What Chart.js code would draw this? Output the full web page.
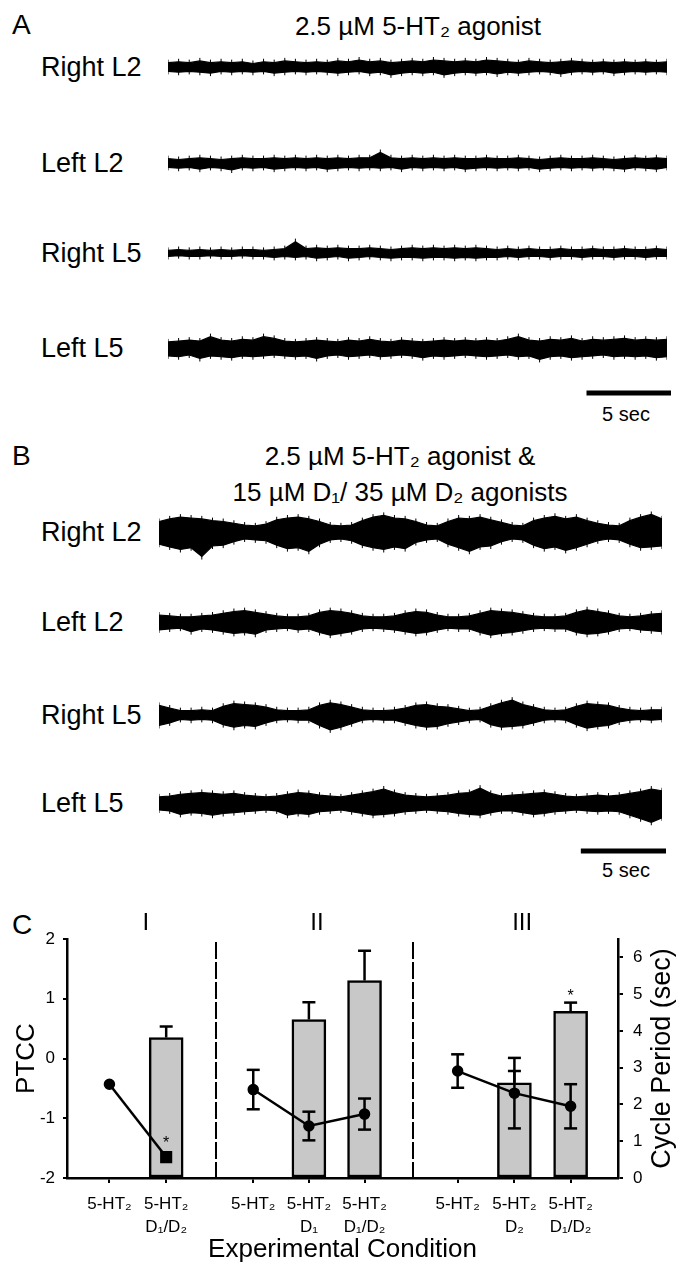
<!DOCTYPE html>
<html>
<head>
<meta charset="utf-8">
<script src="https://cdn.jsdelivr.net/npm/chart.js"></script>
<style>
  html, body { margin: 0; padding: 0; background: #fff; }
  #page { position: relative; width: 678px; height: 1267px; overflow: hidden;
          font-family: "Liberation Sans", Arial, sans-serif; color: #000; }
  .t { position: absolute; white-space: nowrap; line-height: 1; }
  .c { transform: translateX(-50%); }
  canvas { position: absolute; }
</style>
</head>
<body>
<div id="page">
  <div class="t" style="left:12px;top:11px;font-size:28px">A</div>
  <div class="t c" style="left:418px;top:13px;font-size:26px">2.5 µM 5-HT₂ agonist</div>
  <div class="t c" style="left:626px;top:404px;font-size:20px">5 sec</div>

  <div class="t" style="left:12px;top:442px;font-size:28px">B</div>
  <div class="t c" style="left:400px;top:443px;font-size:26px">2.5 µM 5-HT₂ agonist &amp;</div>
  <div class="t c" style="left:400px;top:479px;font-size:26px">15 µM D₁/ 35 µM D₂ agonists</div>
  <div class="t c" style="left:626px;top:860px;font-size:20px">5 sec</div>

  <div class="t" style="left:12px;top:911px;font-size:28px">C</div>
  <canvas id="chartC" width="678" height="367" style="left:0;top:900px"></canvas>
</div>
<script>
Chart.defaults.font.family = '"Liberation Sans", Arial, sans-serif';
Chart.defaults.color = '#000';

// ---- panels A / B : EMG traces, envelope (upper / lower edge) ----
const traceNames = ['Right L2', 'Left L2', 'Right L5', 'Left L5'];
const sweepSec = 30;
const scaleBarSec = 5;

// A: 5-HT2 agonist alone
const aRightL2Up = [5,6,5,7,5,6,5,6,4,6,5,7,6,5,6,5,7,6,8,6,7,5,6,7,6,8,7,6,7,6,8,7,6,5,7,6,5,6,7,6,5,6,5,6,5,6,5,6];
const aRightL2Lo = [-5,-6,-5,-6,-7,-5,-6,-5,-6,-5,-7,-6,-5,-6,-5,-6,-7,-6,-5,-7,-6,-9,-7,-6,-7,-6,-9,-7,-6,-7,-6,-8,-6,-7,-6,-5,-6,-8,-6,-5,-6,-5,-7,-6,-5,-6,-5,-6];
const aLeftL2Up = [5,4,5,6,5,4,5,6,5,5,6,5,6,5,6,5,6,5,6,6,12,6,5,6,5,6,5,6,5,5,6,5,5,6,5,4,5,6,5,5,6,5,4,5,6,5,6,5];
const aLeftL2Lo = [-5,-6,-5,-7,-5,-6,-8,-5,-6,-5,-7,-6,-5,-6,-5,-7,-6,-5,-6,-5,-6,-5,-7,-5,-6,-5,-6,-5,-7,-6,-5,-6,-5,-6,-5,-7,-6,-5,-6,-5,-6,-5,-6,-7,-5,-6,-7,-5];
const aRightL5Up = [3,4,3,4,3,4,3,4,4,3,4,5,13,5,6,5,6,5,5,6,5,4,5,6,5,6,5,6,5,6,5,4,5,4,5,4,4,5,4,4,5,4,4,5,4,4,5,4];
const aRightL5Lo = [-4,-3,-4,-4,-3,-4,-4,-3,-4,-4,-5,-4,-5,-4,-6,-5,-4,-6,-5,-4,-5,-6,-5,-5,-6,-5,-5,-6,-5,-6,-5,-5,-4,-5,-4,-4,-5,-4,-4,-5,-4,-4,-5,-4,-4,-5,-4,-4];
const aLeftL5Up = [7,8,9,8,13,9,8,10,9,13,11,8,7,8,9,8,7,9,8,10,8,7,9,8,7,8,9,8,9,8,9,8,10,13,9,8,10,9,11,8,10,9,10,11,9,10,9,10];
const aLeftL5Lo = [-9,-10,-8,-12,-9,-10,-11,-9,-10,-9,-8,-9,-10,-9,-12,-9,-8,-10,-9,-8,-10,-9,-8,-9,-11,-9,-10,-9,-8,-9,-10,-9,-8,-10,-9,-13,-10,-9,-11,-10,-9,-8,-10,-9,-10,-9,-11,-10];

// B: 5-HT2 + D1/D2 agonists (bursting)
const bRightL2Up = [12,15,17,16,15,13,12,10,8,7,9,14,16,17,15,12,8,7,8,13,17,19,16,15,12,8,7,12,16,15,17,14,11,8,7,13,16,18,15,17,13,10,8,7,13,17,20,15];
const bRightL2Lo = [-14,-17,-20,-18,-28,-16,-15,-11,-8,-9,-10,-15,-19,-18,-22,-14,-9,-8,-10,-15,-18,-20,-17,-19,-12,-9,-8,-14,-18,-22,-17,-16,-11,-8,-9,-15,-19,-17,-21,-18,-14,-10,-8,-9,-14,-18,-17,-16];
const bLeftL2Up = [8,7,6,6,7,8,10,12,13,11,9,7,6,6,7,11,13,12,10,7,6,6,7,10,12,11,8,6,6,7,10,13,12,11,9,7,6,6,7,11,14,12,10,7,6,7,9,10];
const bLeftL2Lo = [-9,-8,-7,-11,-8,-9,-11,-13,-12,-14,-9,-8,-7,-9,-8,-12,-15,-13,-11,-8,-7,-8,-9,-11,-13,-12,-9,-7,-8,-8,-12,-15,-13,-12,-10,-8,-7,-8,-8,-12,-14,-13,-11,-8,-7,-9,-10,-11];
const bRightL5Up = [11,8,5,5,6,5,10,13,12,11,9,6,5,5,6,11,14,12,9,6,5,5,6,8,11,12,10,9,7,5,6,10,14,17,12,9,6,5,6,10,13,12,11,8,6,5,6,6];
const bRightL5Lo = [-12,-9,-5,-6,-5,-6,-11,-14,-12,-13,-9,-6,-5,-6,-6,-12,-17,-14,-10,-6,-5,-6,-6,-9,-12,-14,-13,-10,-8,-6,-5,-11,-14,-13,-12,-9,-6,-5,-6,-11,-15,-13,-12,-8,-6,-5,-6,-5];
const bLeftL5Up = [7,8,10,11,12,11,10,11,9,8,7,8,10,12,11,9,8,7,9,11,13,16,12,9,8,7,8,9,11,12,17,11,8,9,10,11,12,10,8,7,8,9,8,9,11,13,16,14];
const bLeftL5Lo = [-8,-9,-13,-11,-12,-14,-12,-11,-10,-9,-8,-9,-14,-12,-13,-10,-9,-8,-10,-12,-14,-13,-12,-10,-9,-8,-9,-10,-12,-13,-14,-11,-9,-9,-11,-13,-12,-10,-9,-8,-9,-10,-9,-10,-14,-18,-22,-17];

// ---- panel C ----
const condLabels = [
  ['5-HT₂', ''], ['5-HT₂', 'D₁/D₂'],
  ['5-HT₂', ''], ['5-HT₂', 'D₁'], ['5-HT₂', 'D₁/D₂'],
  ['5-HT₂', ''], ['5-HT₂', 'D₂'], ['5-HT₂', 'D₁/D₂']
];
const condPos = [0.77, 1.8, 3.38, 4.39, 5.4, 7.09, 8.12, 9.14];
const condGroup = [0, 0, 1, 1, 1, 2, 2, 2];
const groupNames = ['I', 'II', 'III'];
const groupDividers = [2.7, 6.28];
const ptcc = [-0.43, -1.65, -0.52, -1.13, -0.93, -0.21, -0.58, -0.80];
const ptccErr = [0, 0, 0.33, 0.24, 0.26, 0.28, 0.59, 0.37];
const ptccSig = [false, true, false, false, false, false, false, false];
const period = [null, 3.82, null, 4.31, 5.37, null, 2.59, 4.53];
const periodErr = [0, 0.30, 0, 0.47, 0.81, 0, 0.32, 0.24];
const periodSig = [false, false, false, false, false, false, false, true];
const ptccTicks = [-2, -1, 0, 1, 2];
const periodTicks = [0, 1, 2, 3, 4, 5, 6];

// ---- layout ----
const page = document.getElementById('page');
const panels = [
  { left: 164, width: 507, centers: [67, 163, 253, 348], barY: 393,
    traces: [[aRightL2Up, aRightL2Lo], [aLeftL2Up, aLeftL2Lo], [aRightL5Up, aRightL5Lo], [aLeftL5Up, aLeftL5Lo]] },
  { left: 155, width: 511, centers: [532, 622, 715, 803], barY: 851,
    traces: [[bRightL2Up, bRightL2Lo], [bLeftL2Up, bLeftL2Lo], [bRightL5Up, bRightL5Lo], [bLeftL5Up, bLeftL5Lo]] }
];
const quiet = { responsive: false, animation: false, events: [], layout: { padding: 0 },
  plugins: { legend: { display: false }, tooltip: { enabled: false } } };

function addCanvas(left, top, w, h) {
  const cv = document.createElement('canvas');
  cv.width = w; cv.height = h;
  cv.style.left = left + 'px'; cv.style.top = top + 'px';
  page.appendChild(cv);
  return cv;
}

// vertical hair at every envelope vertex so the band reads like a raw EMG sweep
const hair = { pointStyle: 'line', pointRotation: 90, pointRadius: 3, pointBorderWidth: 1,
               pointBorderColor: '#000', pointHoverRadius: 0 };

function drawTrace(panel, i) {
  const [up, lo] = panel.traces[i];
  const lbl = document.createElement('div');
  lbl.className = 't';
  lbl.style.cssText = `left:41px;top:${panel.centers[i] - 13}px;font-size:27px`;
  lbl.textContent = traceNames[i];
  page.appendChild(lbl);

  const cv = addCanvas(panel.left, panel.centers[i] - 32, panel.width, 64);
  const toPts = arr => arr.map((v, k) => ({ x: k * sweepSec / (arr.length - 1), y: v }));
  new Chart(cv, {
    type: 'line',
    data: { datasets: [
      { data: toPts(up), fill: '+1', backgroundColor: '#000', borderColor: '#000', borderWidth: 1.2, tension: 0, ...hair },
      { data: toPts(lo), fill: false, borderColor: '#000', borderWidth: 1.2, tension: 0, ...hair }
    ] },
    options: { ...quiet,
      scales: { x: { type: 'linear', display: false, min: 0, max: sweepSec },
                y: { display: false, min: -32, max: 32 } } }
  });
}

function drawScaleBar(panel) {
  const cv = addCanvas(panel.left, panel.barY - 5, panel.width, 10);
  new Chart(cv, {
    type: 'line',
    data: { datasets: [{ data: [{ x: sweepSec - scaleBarSec, y: 0 }, { x: sweepSec, y: 0 }],
      borderColor: '#000', borderWidth: 5, borderCapStyle: 'butt', pointRadius: 0 }] },
    options: { ...quiet, clip: false,
      scales: { x: { type: 'linear', display: false, min: 0, max: sweepSec },
                y: { display: false, min: -1, max: 1 } } }
  });
}

panels.forEach(p => {
  p.traces.forEach((_, i) => drawTrace(p, i));
  drawScaleBar(p);
});

// ---- panel C chart ----
const squareMarkerAt = 1;

const decor = {
  id: 'decor',
  beforeDatasetsDraw(chart) {
    const { ctx, chartArea, scales: { x } } = chart;
    ctx.save();
    ctx.strokeStyle = '#000';
    ctx.lineWidth = 2;
    ctx.setLineDash([17, 3]);
    groupDividers.forEach(v => {
      const px = Math.round(x.getPixelForValue(v));
      ctx.beginPath();
      ctx.moveTo(px, chartArea.top + 3);
      ctx.lineTo(px, chartArea.bottom);
      ctx.stroke();
    });
    ctx.restore();
  },
  afterDatasetsDraw(chart) {
    const { ctx, scales: { x, yL, yR } } = chart;
    const cap = 6.5;
    ctx.save();
    ctx.strokeStyle = '#000';
    ctx.lineWidth = 2.5;
    const seg = (x1, y1, x2, y2) => { ctx.beginPath(); ctx.moveTo(x1, y1); ctx.lineTo(x2, y2); ctx.stroke(); };
    condPos.forEach((p, i) => {
      const px = x.getPixelForValue(p);
      if (period[i] !== null && periodErr[i] > 0) {
        const y0 = yR.getPixelForValue(period[i]);
        const y1 = yR.getPixelForValue(period[i] + periodErr[i]);
        seg(px, y0, px, y1);
        seg(px - cap, y1, px + cap, y1);
      }
      if (ptccErr[i] > 0) {
        const yt = yL.getPixelForValue(ptcc[i] + ptccErr[i]);
        const yb = yL.getPixelForValue(ptcc[i] - ptccErr[i]);
        seg(px, yt, px, yb);
        seg(px - cap, yt, px + cap, yt);
        seg(px - cap, yb, px + cap, yb);
      }
    });
    // significance stars
    ctx.fillStyle = '#000';
    ctx.font = '16px "Liberation Sans", Arial, sans-serif';
    ctx.textAlign = 'center';
    ctx.textBaseline = 'alphabetic';
    condPos.forEach((p, i) => {
      const px = x.getPixelForValue(p);
      if (ptccSig[i]) ctx.fillText('*', px, yL.getPixelForValue(ptcc[i] + ptccErr[i]) - 9);
      if (periodSig[i]) ctx.fillText('*', px, yR.getPixelForValue(period[i] + periodErr[i]) - 2);
    });
    ctx.restore();
  },
  afterDraw(chart) {
    const { ctx, chartArea, scales: { x } } = chart;
    ctx.save();
    ctx.fillStyle = '#000';
    ctx.textAlign = 'center';
    ctx.textBaseline = 'middle';
    ctx.font = '24px "Liberation Sans", Arial, sans-serif';
    groupNames.forEach((g, gi) => {
      const pos = condPos.filter((_, i) => condGroup[i] === gi);
      const mid = (x.getPixelForValue(pos[0]) + x.getPixelForValue(pos[pos.length - 1])) / 2;
      ctx.fillText(g, mid + 8, chartArea.top - 16);
    });
    // right axis title, reading bottom to top
    ctx.translate(663, (chartArea.top + chartArea.bottom) / 2);
    ctx.rotate(-Math.PI / 2);
    ctx.font = '27px "Liberation Sans", Arial, sans-serif';
    ctx.fillText('Cycle Period (sec)', 0, 0);
    ctx.restore();
  }
};

const lineSets = groupNames.map((g, gi) => ({
  type: 'line',
  yAxisID: 'yL',
  order: 0,
  data: condPos.map((p, i) => ({ x: p, y: ptcc[i], i })).filter(d => condGroup[d.i] === gi),
  borderColor: '#000',
  borderWidth: 2.5,
  tension: 0,
  pointStyle: c => (c.raw && c.raw.i === squareMarkerAt ? 'rect' : 'circle'),
  pointRadius: c => (c.raw && c.raw.i === squareMarkerAt ? 7.5 : 5),
  pointBackgroundColor: '#000',
  pointBorderColor: '#000',
  pointBorderWidth: 1.5
}));

const barSet = {
  type: 'bar',
  yAxisID: 'yR',
  order: 1,
  data: condPos.map((p, i) => ({ x: p, y: period[i] })),
  backgroundColor: '#c8c8c8',
  borderColor: '#000',
  borderWidth: 2.5,
  borderSkipped: false,
  barThickness: 34
};

const axisLine = { color: '#000', width: 2.5 };

new Chart(document.getElementById('chartC'), {
  type: 'line',
  data: { datasets: [barSet, ...lineSets] },
  options: { ...quiet,
    layout: { padding: { top: 39, left: 0, right: 0, bottom: 0 } },
    scales: {
      x: {
        type: 'linear', position: 'bottom', min: 0, max: 10, offset: false,
        afterBuildTicks: s => { s.ticks = condPos.map(v => ({ value: v })); },
        afterFit: s => { s.height = 89; },
        ticks: { callback: (v, i) => condLabels[i], font: { size: 17, lineHeight: 1.4 },
                 padding: 9, maxRotation: 0, autoSkip: false },
        grid: { drawOnChartArea: false, offset: false, tickLength: 5, color: '#000', lineWidth: 2 },
        border: axisLine,
        title: { display: true, text: 'Experimental Condition', font: { size: 26 }, padding: { top: 0, bottom: 2 } }
      },
      yL: {
        type: 'linear', position: 'left', min: -2, max: 2,
        afterBuildTicks: s => { s.ticks = ptccTicks.map(v => ({ value: v })); },
        afterFit: s => { s.width = 67; s.paddingTop = 0; s.paddingBottom = 0; },
        ticks: { font: { size: 17 }, padding: 8 },
        grid: { drawOnChartArea: false, tickLength: 4, color: '#000', lineWidth: 2 },
        border: axisLine,
        title: { display: true, text: 'PTCC', font: { size: 26 }, padding: { top: 11, bottom: 0 } }
      },
      yR: {
        type: 'linear', position: 'right', min: 0, max: 6.5,
        afterBuildTicks: s => { s.ticks = periodTicks.map(v => ({ value: v })); },
        afterFit: s => { s.width = 60; s.paddingTop = 0; s.paddingBottom = 0; },
        ticks: { font: { size: 17 }, padding: 10 },
        grid: { drawOnChartArea: false, tickLength: 5, color: '#000', lineWidth: 2 },
        border: axisLine
      }
    }
  },
  plugins: [decor]
});
</script>
</body>
</html>
